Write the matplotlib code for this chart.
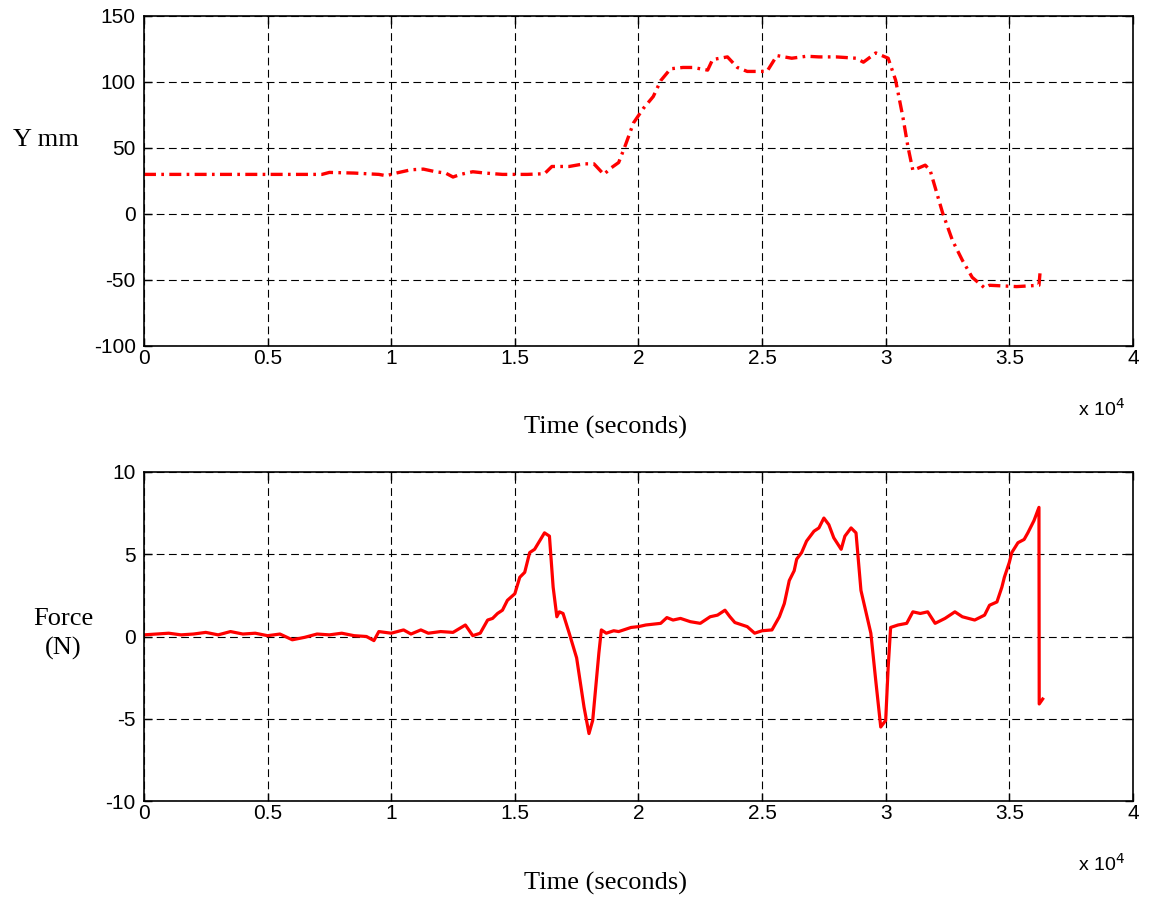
import matplotlib
matplotlib.use('Agg')
import matplotlib.pyplot as plt

# 时间 (x 10^4 秒) 与 Y 位移 (mm)
t_y = [0, 0.3, 0.6, 0.72, 0.75, 0.85, 0.95, 0.98, 1.02, 1.08, 1.13, 1.18, 1.22, 1.25,
       1.28, 1.33, 1.38, 1.45, 1.55, 1.62, 1.65, 1.72, 1.78, 1.82, 1.86, 1.89, 1.92,
       1.945, 1.98, 2.02, 2.06, 2.09, 2.13, 2.18, 2.22, 2.28, 2.3, 2.36, 2.4, 2.44,
       2.52, 2.56, 2.62, 2.68, 2.73, 2.8, 2.88, 2.91, 2.96, 3.01, 3.04, 3.07, 3.09,
       3.11, 3.16, 3.18, 3.23, 3.27, 3.31, 3.35, 3.4, 3.42, 3.53, 3.62, 3.625]
y_mm = [30, 30, 30, 30, 31.5, 31, 30, 29, 31, 33.5, 34, 32, 31, 28,
        30, 32, 31, 30, 30, 30.5, 36, 36, 38, 38, 30, 35, 39,
        51, 69, 80, 89, 101, 110, 111, 111, 109, 117, 119, 111, 108,
        108, 120, 118, 119.5, 119, 119, 118, 115, 122, 118, 101.5, 73, 51,
        33, 37, 33, 1, -20, -35, -48, -56, -54, -55, -54, -43]

# 时间 (x 10^4 秒) 与 力 (N)
t_f = [0, 0.05, 0.1, 0.15, 0.2, 0.25, 0.3, 0.35, 0.4, 0.45, 0.5, 0.55, 0.6, 0.65,
       0.7, 0.75, 0.8, 0.85, 0.9, 0.93, 0.95, 1.0, 1.05, 1.08, 1.12, 1.15, 1.2, 1.25,
       1.3, 1.33, 1.36, 1.39, 1.41, 1.43, 1.45, 1.47, 1.5, 1.52, 1.54, 1.56, 1.58,
       1.6, 1.62, 1.64, 1.655, 1.67, 1.68, 1.695, 1.72, 1.75, 1.78, 1.8, 1.815, 1.84,
       1.85, 1.87, 1.9, 1.92, 1.97, 2.0, 2.03, 2.06, 2.09, 2.115, 2.14, 2.17, 2.21,
       2.25, 2.29, 2.32, 2.35, 2.37, 2.39, 2.44, 2.47, 2.5, 2.54, 2.57, 2.59, 2.61,
       2.63, 2.64, 2.66, 2.68, 2.71, 2.73, 2.75, 2.77, 2.79, 2.82, 2.835, 2.86, 2.88,
       2.9, 2.92, 2.94, 2.96, 2.98, 3.0, 3.01, 3.02, 3.05, 3.085, 3.11, 3.14, 3.17,
       3.2, 3.24, 3.28, 3.31, 3.36, 3.4, 3.42, 3.45, 3.47, 3.48, 3.5, 3.51, 3.535,
       3.56, 3.575, 3.6, 3.62, 3.621, 3.635]
force = [0.1, 0.15, 0.2, 0.1, 0.15, 0.25, 0.1, 0.3, 0.15, 0.2, 0.05, 0.15, -0.2, -0.05,
         0.15, 0.1, 0.2, 0.05, 0.0, -0.25, 0.3, 0.2, 0.4, 0.15, 0.4, 0.2, 0.3, 0.25,
         0.7, 0.05, 0.2, 1.0, 1.1, 1.4, 1.6, 2.2, 2.6, 3.6, 3.9, 5.1, 5.3,
         5.8, 6.3, 6.1, 3.0, 1.2, 1.5, 1.4, 0.2, -1.3, -4.3, -5.9, -5.1, -1.0,
         0.4, 0.2, 0.35, 0.3, 0.55, 0.6, 0.7, 0.75, 0.8, 1.15, 1.0, 1.1, 0.9,
         0.8, 1.2, 1.3, 1.6, 1.2, 0.85, 0.6, 0.2, 0.35, 0.4, 1.2, 2.0, 3.4,
         4.0, 4.7, 5.1, 5.8, 6.4, 6.6, 7.2, 6.8, 6.0, 5.3, 6.1, 6.6, 6.3,
         2.8, 1.5, 0.2, -2.7, -5.5, -5.1, -1.9, 0.55, 0.7, 0.8, 1.5, 1.4, 1.5,
         0.8, 1.1, 1.5, 1.2, 1.0, 1.3, 1.9, 2.1, 3.0, 3.6, 4.5, 5.1, 5.7,
         5.9, 6.3, 7.05, 7.85, -4.1, -3.8]

x_ticks = [0, 0.5, 1, 1.5, 2, 2.5, 3, 3.5, 4]
x_tick_labels = ['0', '0.5', '1', '1.5', '2', '2.5', '3', '3.5', '4']
y_ticks_top = [-100, -50, 0, 50, 100, 150]
y_ticks_bot = [-10, -5, 0, 5, 10]

plt.rcParams['font.family'] = ['Liberation Sans', 'DejaVu Sans']
plt.rcParams['axes.unicode_minus'] = False
serif = ['Liberation Serif', 'DejaVu Serif']

fig = plt.figure(figsize=(11.49, 8.98), dpi=100)
ax1 = fig.add_axes([0.1253, 0.6147, 0.8607, 0.3675])
ax2 = fig.add_axes([0.1253, 0.1080, 0.8607, 0.3664])


def style_axes(ax, yticks):
    ax.set_xlim(0, 4)
    ax.set_xticks(x_ticks)
    ax.set_xticklabels(x_tick_labels)
    ax.set_ylim(yticks[0], yticks[-1])
    ax.set_yticks(yticks)
    ax.grid(True, color='black', linestyle=(0, (7, 4)), linewidth=0.8)
    ax.set_axisbelow(True)
    ax.tick_params(direction='in', top=True, right=True, length=6, width=1,
                   labelsize=15)
    ax.tick_params(axis='y', pad=6)
    ax.tick_params(axis='x', pad=2)
    for s in ax.spines.values():
        s.set_linewidth(1.2)
    ax.text(0.992, -0.19, r'x 10$^{4}$', transform=ax.transAxes,
            ha='right', va='center', fontsize=14)


ax1.plot(t_y, y_mm, color='red', linewidth=2.4, linestyle='-.',
         dashes=(3.6, 1.6, 0.8, 1.6))
style_axes(ax1, y_ticks_top)
ax1.text(-0.099, 0.624, 'Y mm', transform=ax1.transAxes, ha='center', va='center',
         fontsize=19, family=serif)
ax1.text(0.467, -0.248, 'Time (seconds)', transform=ax1.transAxes, ha='center',
         va='center', fontsize=19, family=serif)

ax2.plot(t_f, force, color='red', linewidth=2.3)
style_axes(ax2, y_ticks_bot)
ax2.text(-0.082, 0.508, 'Force\n(N)', transform=ax2.transAxes, ha='center',
         va='center', fontsize=19, family=serif, linespacing=1.35)
ax2.text(0.467, -0.252, 'Time (seconds)', transform=ax2.transAxes, ha='center',
         va='center', fontsize=19, family=serif)

fig.savefig('out.png', dpi=100)
